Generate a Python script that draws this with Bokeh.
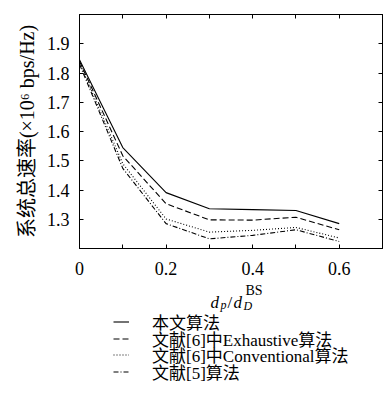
from bokeh.plotting import figure
from bokeh.layouts import column
from bokeh.models import Range1d, FixedTicker, LinearAxis, Legend, LegendItem, Label
from bokeh.embed import file_html
from bokeh.resources import INLINE

# data
x = [0, 0.1, 0.2, 0.3, 0.4, 0.5, 0.6]
proposed = [1.845, 1.545, 1.391, 1.336, 1.333, 1.330, 1.285]
exhaustive = [1.840, 1.517, 1.353, 1.298, 1.297, 1.307, 1.264]
conventional = [1.835, 1.490, 1.301, 1.256, 1.262, 1.272, 1.236]
ref5 = [1.830, 1.474, 1.285, 1.233, 1.245, 1.264, 1.224]

labels = ["本文算法", "文献[6]中Exhaustive算法", "文献[6]中Conventional算法", "文献[5]算法"]
x_major = [0, 0.2, 0.4, 0.6]
x_minor = [0.1, 0.3, 0.5, 0.7]
y_major = [1.3, 1.4, 1.5, 1.6, 1.7, 1.8, 1.9]
y_label = "系统总速率(×10⁶ bps/Hz)"

FONT = "Liberation Serif, Noto Sans CJK SC"
W = 387
TOP_H = 280
BOT_H = 118

p = figure(width=W, height=TOP_H, frame_width=303, frame_height=234,
           x_range=Range1d(0, 0.7), y_range=Range1d(1.2, 2.0),
           output_backend="svg", toolbar_location=None,
           min_border_left=79, min_border_top=14, min_border_right=5, min_border_bottom=32)
p.background_fill_color = "white"
p.border_fill_color = "white"
p.outline_line_color = "black"
p.outline_line_width = 1
p.grid.visible = False
p.frame_align = False

dashes = ["solid", "6 3", "1 2", "5 2 1 2"]
series = [proposed, exhaustive, conventional, ref5]
for dash, ys in zip(dashes, series):
    p.line(x, ys, line_color="black", line_width=1.1, line_dash=dash)

xt = FixedTicker(ticks=x_major, minor_ticks=x_minor)
yt = FixedTicker(ticks=y_major, minor_ticks=[])

def style_axis(ax, show_labels=True):
    ax.axis_line_color = "black"
    ax.major_tick_in = 4
    ax.major_tick_out = 0
    ax.minor_tick_in = 4
    ax.minor_tick_out = 0
    ax.major_tick_line_color = "black"
    ax.minor_tick_line_color = "black"
    ax.major_label_text_font = FONT
    if show_labels:
        ax.major_label_text_font_size = "18px"
        ax.major_label_text_color = "black"
    else:
        ax.major_label_text_font_size = "1px"
        ax.major_label_text_color = None
        ax.major_label_standoff = 0

xa = p.xaxis[0]
xa.ticker = xt
xa.major_label_overrides = {0: "0"}
style_axis(xa)
xa.major_label_standoff = 13

ya = p.yaxis[0]
ya.ticker = yt
style_axis(ya)
ya.major_label_standoff = 10
ya.axis_label = y_label
ya.axis_label_text_font = FONT
ya.axis_label_text_font_size = "20px"
ya.axis_label_text_font_style = "normal"
ya.axis_label_text_color = "black"
ya.axis_label_standoff = 6

top = LinearAxis(ticker=xt)
style_axis(top, False)
p.add_layout(top, "above")
right = LinearAxis(ticker=yt)
style_axis(right, False)
p.add_layout(right, "right")

# lower panel: x-axis title and legend (canvas pixels, y downward from TOP_H)
q = figure(width=W, height=BOT_H, x_range=Range1d(0, W), y_range=Range1d(BOT_H, 0),
           x_axis_type=None, y_axis_type=None,
           output_backend="svg", toolbar_location=None,
           min_border_left=0, min_border_right=0, min_border_top=0, min_border_bottom=0)
q.grid.visible = False
q.outline_line_color = None
q.background_fill_color = "white"
q.border_fill_color = "white"
q.frame_align = False

pieces = [
    ("d", 210, 22, "17px", "italic"),
    ("p", 220, 24, "12px", "italic"),
    ("/", 227, 22, "17px", "normal"),
    ("d", 233, 22, "17px", "italic"),
    ("D", 243, 25, "12px", "italic"),
    ("BS", 245, 10, "14px", "normal"),
]
for t, sx, sy, fs, st in pieces:
    q.add_layout(Label(x=sx, y=sy, text=t,
                       text_font=FONT, text_font_size=fs, text_font_style=st,
                       text_baseline="alphabetic", text_align="left", text_color="black"))

# legend keys: renderers with no drawable point, used only for the key samples
nan = float("nan")
row_bottoms = [64, 47, 31, 14]
for dash, lab, vb in zip(dashes, labels, row_bottoms):
    r = q.line([nan], [nan], line_color="black", line_width=1.1, line_dash=dash)
    lg = Legend(items=[LegendItem(label=lab, renderers=[r])], location=(113, vb),
                label_text_font=FONT, label_text_font_size="17px", label_text_color="black",
                label_height=17, glyph_height=17, glyph_width=16, spacing=0,
                label_standoff=23, padding=0, margin=0,
                border_line_color=None, background_fill_alpha=0)
    q.add_layout(lg, "center")

layout = column(p, q, spacing=0)
open("out.html", "w").write(file_html(layout, INLINE))
